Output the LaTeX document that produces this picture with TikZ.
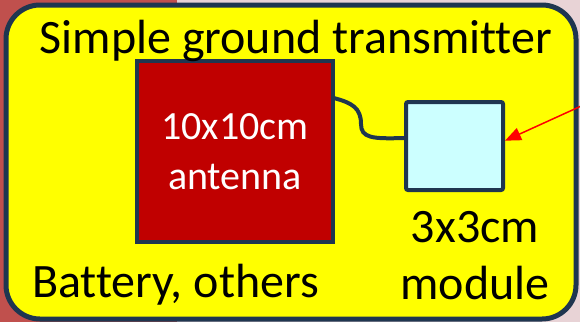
\documentclass[tikz,border=0pt]{standalone}
\usepackage{fontspec}
\setmainfont{Carlito}[Ligatures=NoCommon]
\usepackage{xcolor}
\usetikzlibrary{arrows.meta, positioning, calc}

\definecolor{navy}{HTML}{1F3650}
\definecolor{slidered}{HTML}{C0504D}
\definecolor{slidepink}{HTML}{E8D3D6}
\definecolor{antred}{HTML}{C00000}
\definecolor{modcyan}{HTML}{CCFFFF}
\definecolor{boardyellow}{HTML}{FFFF00}

\begin{document}
\begin{tikzpicture}[
    x=1pt, y=-1pt,
    board/.style={draw=navy, line width=5pt, rounded corners=34pt, fill=boardyellow, inner sep=0pt},
    part/.style={draw=navy, line width=4pt, inner sep=0pt, fill=#1},
    label/.style={font=\fontsize{48}{57}\selectfont, align=center, inner sep=0pt},
    wire/.style={draw=navy, line width=4pt, line cap=round},
    arr/.style={-{Triangle[length=16pt, width=13pt]}, draw=red, line width=1.5pt},
    >=Stealth
]
\useasboundingbox (0,0) rectangle (580,322);

% slide background
\fill[slidepink] (0,0) rectangle (580,322);
\fill[slidered] (0,0) rectangle (177,322);

% board
\draw[board] (6,5) rectangle (576,319);

% antenna
\node[part=antred, minimum width=196pt, minimum height=181pt, font=\fontsize{40}{50}\selectfont, text=white, align=center] (antenna) at (235,151.5) {10x10cm\\antenna};

% module
\node[part=modcyan, rounded corners=2pt, minimum width=97pt, minimum height=88pt] (module) at (454.5,146) {};

% texts
\node[label, anchor=base] (title) at (296,53) {Simple ground transmitter};
\node[label, anchor=base] (battery) at (175.5,297) {Battery, others};
\node[label] (modlabel) at (475,256) {3x3cm\\module};

% wire
\draw[wire] (antenna.28) .. controls (352,103) and (361,108) .. (361,124)
    .. controls (361,138) and (372,139) .. (module.171);

% pointer
\coordinate (feed) at (590,102);
\draw[arr] (feed) -- (module.6);

\end{tikzpicture}
\end{document}
